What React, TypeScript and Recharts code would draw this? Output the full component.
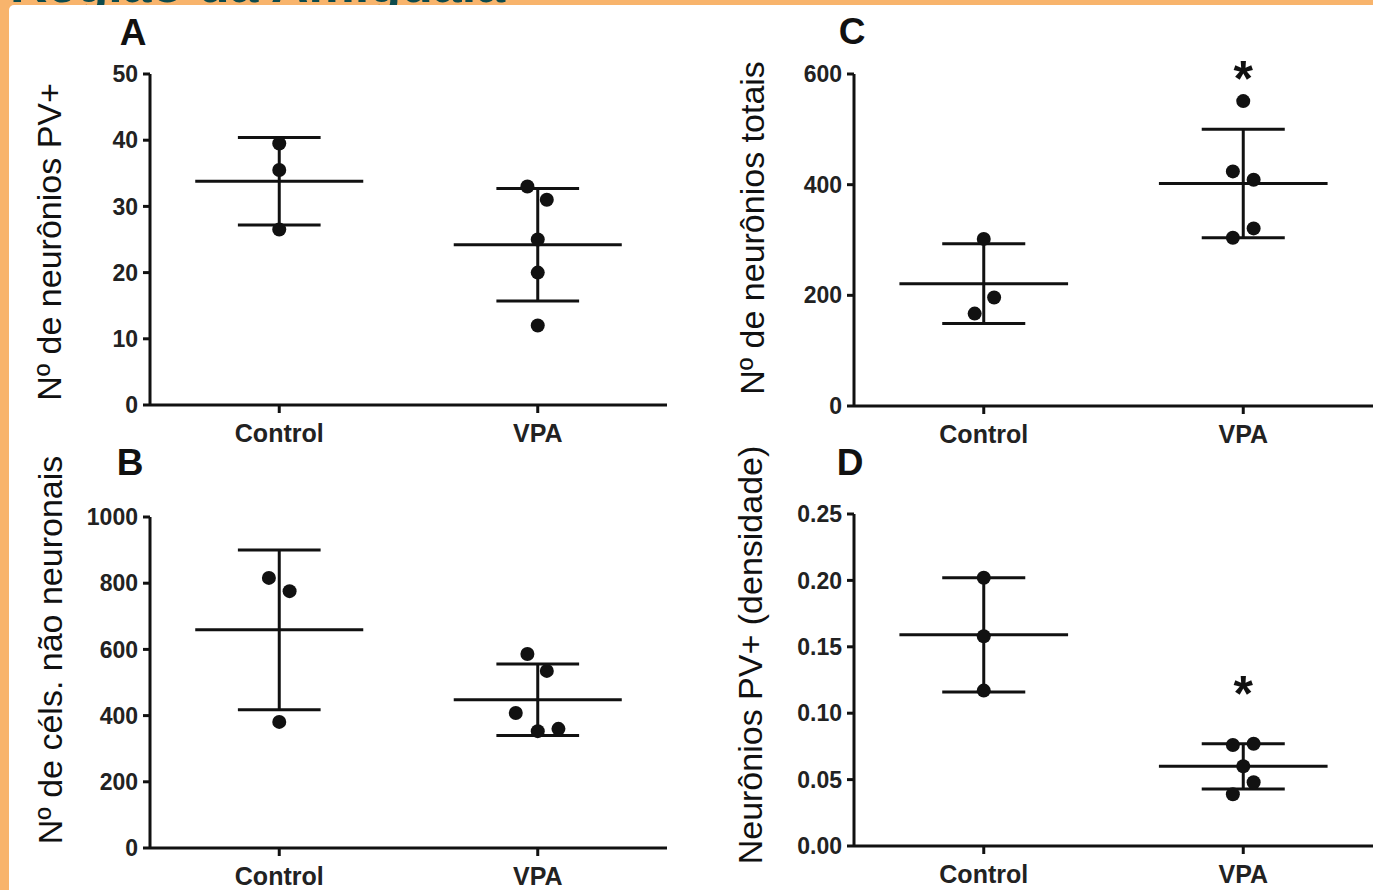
import React from 'react';
import { ScatterChart, Scatter, XAxis, YAxis, ReferenceLine, ReferenceDot } from 'recharts';

const groups = ['Control', 'VPA'];
const groupX = [0.5, 1.5];

// A - Nº de neurônios PV+
const pvControl = [39.5, 35.5, 26.5];
const pvControlDx = [0, 0, 0];
const pvVpa = [33, 31, 25, 20, 12];
const pvVpaDx = [-0.04, 0.035, 0, 0, 0];
const pvMean = [33.8, 24.2];
const pvSd = [6.6, 8.5];
const pvTicks = [0, 10, 20, 30, 40, 50];

// B - Nº de céls. não neuronais
const nnControl = [816, 776, 381];
const nnControlDx = [-0.04, 0.04, 0];
const nnVpa = [586, 535, 408, 353, 360];
const nnVpaDx = [-0.04, 0.035, -0.085, 0, 0.08];
const nnMean = [659, 448];
const nnSd = [241, 108];
const nnTicks = [0, 200, 400, 600, 800, 1000];

// C - Nº de neurônios totais
const totControl = [302, 196, 167];
const totControlDx = [0, 0.04, -0.035];
const totVpa = [551, 424, 409, 321, 304];
const totVpaDx = [0, -0.04, 0.04, 0.04, -0.04];
const totMean = [221, 402];
const totSd = [72, 98];
const totTicks = [0, 200, 400, 600];
const totStar = 607;

// D - Neurônios PV+ (densidade)
const denControl = [0.202, 0.158, 0.117];
const denControlDx = [0, 0, 0];
const denVpa = [0.076, 0.077, 0.060, 0.048, 0.039];
const denVpaDx = [-0.04, 0.04, 0, 0.04, -0.04];
const denMean = [0.159, 0.060];
const denSd = [0.043, 0.017];
const denTicks = [0, 0.05, 0.1, 0.15, 0.2, 0.25];
const denStar = 0.121;

const INK = '#111';
const FONT = '"Liberation Sans", Arial, sans-serif';
const MEAN_HALF = 0.325;
const CAP_HALF = 0.16;

interface PanelProps {
  left: number;
  top: number;
  width: number;
  height: number;
  margin: { top: number; right: number; bottom: number; left: number };
  ticks: number[];
  digits: number;
  control: number[];
  controlDx: number[];
  vpa: number[];
  vpaDx: number[];
  mean: number[];
  sd: number[];
  star?: number;
}

const Dot = (p: any) => <circle cx={p.cx} cy={p.cy} r={7} fill={INK} />;

const Star = (p: any) => (
  <text x={p.cx} y={p.cy + 26} textAnchor="middle" fontSize={50} fontWeight="bold" fontFamily={FONT} fill={INK}>
    *
  </text>
);

const Panel: React.FC<PanelProps> = (props) => {
  const { ticks, digits, mean, sd } = props;
  const controlData = props.control.map((v, i) => ({ x: groupX[0] + props.controlDx[i], y: v }));
  const vpaData = props.vpa.map((v, i) => ({ x: groupX[1] + props.vpaDx[i], y: v }));
  const line = { stroke: INK, strokeWidth: 3 };

  return (
    <div style={{ position: 'absolute', left: props.left, top: props.top }}>
      <ScatterChart width={props.width} height={props.height} margin={props.margin}>
        <XAxis
          type="number"
          dataKey="x"
          domain={[0, 2]}
          ticks={groupX}
          interval={0}
          tickFormatter={(v: number) => groups[groupX.indexOf(v)]}
          height={50}
          tickSize={8}
          tickMargin={11}
          axisLine={line}
          tickLine={line}
          tick={{ fontSize: 25, fontWeight: 'bold', fill: '#222', fontFamily: FONT }}
        />
        <YAxis
          type="number"
          dataKey="y"
          domain={[ticks[0], ticks[ticks.length - 1]]}
          ticks={ticks}
          interval={0}
          tickFormatter={(v: number) => v.toFixed(digits)}
          width={70}
          tickSize={7}
          tickMargin={5}
          axisLine={line}
          tickLine={line}
          tick={{ fontSize: 23, fontWeight: 'bold', fill: '#222', fontFamily: FONT }}
        />
        {groupX.map((gx, i) => (
          <ReferenceLine
            key={`mean-${i}`}
            segment={[{ x: gx - MEAN_HALF, y: mean[i] }, { x: gx + MEAN_HALF, y: mean[i] }]}
            {...line}
          />
        ))}
        {groupX.map((gx, i) => (
          <ReferenceLine
            key={`bar-${i}`}
            segment={[{ x: gx, y: mean[i] - sd[i] }, { x: gx, y: mean[i] + sd[i] }]}
            {...line}
          />
        ))}
        {groupX.map((gx, i) => (
          <ReferenceLine
            key={`hi-${i}`}
            segment={[{ x: gx - CAP_HALF, y: mean[i] + sd[i] }, { x: gx + CAP_HALF, y: mean[i] + sd[i] }]}
            {...line}
          />
        ))}
        {groupX.map((gx, i) => (
          <ReferenceLine
            key={`lo-${i}`}
            segment={[{ x: gx - CAP_HALF, y: mean[i] - sd[i] }, { x: gx + CAP_HALF, y: mean[i] - sd[i] }]}
            {...line}
          />
        ))}
        <Scatter data={controlData} shape={Dot} isAnimationActive={false} />
        <Scatter data={vpaData} shape={Dot} isAnimationActive={false} />
        {props.star !== undefined && (
          <ReferenceDot x={groupX[1]} y={props.star} ifOverflow="visible" shape={Star} />
        )}
      </ScatterChart>
    </div>
  );
};

const App: React.FC = () => {
  return (
    <div
      style={{
        position: 'absolute',
        left: 0,
        top: 0,
        width: 1373,
        height: 890,
        background: '#F8B46C',
        overflow: 'hidden',
        fontFamily: FONT,
      }}
    >
      {/* page heading, cut off by the top edge as in the source figure */}
      <svg width={1373} height={6} style={{ position: 'absolute', left: 0, top: 0 }}>
        <text x={10} y={2} fontSize={52} fontWeight="bold" fill="#0d4b4d" fontFamily={FONT}>
          Região da Amígdala
        </text>
      </svg>
      <div
        style={{
          position: 'absolute',
          left: 9,
          top: 5,
          right: 0,
          bottom: 0,
          background: '#fff',
          borderTopLeftRadius: 5,
        }}
      />

      <Panel
        left={80}
        top={40}
        width={610}
        height={420}
        margin={{ top: 34, right: 23, bottom: 5, left: 0 }}
        ticks={pvTicks}
        digits={0}
        control={pvControl}
        controlDx={pvControlDx}
        vpa={pvVpa}
        vpaDx={pvVpaDx}
        mean={pvMean}
        sd={pvSd}
      />
      <Panel
        left={780}
        top={40}
        width={593}
        height={420}
        margin={{ top: 34, right: 0, bottom: 4, left: 4 }}
        ticks={totTicks}
        digits={0}
        control={totControl}
        controlDx={totControlDx}
        vpa={totVpa}
        vpaDx={totVpaDx}
        mean={totMean}
        sd={totSd}
        star={totStar}
      />
      <Panel
        left={80}
        top={480}
        width={610}
        height={410}
        margin={{ top: 37, right: 23, bottom: -8, left: 0 }}
        ticks={nnTicks}
        digits={0}
        control={nnControl}
        controlDx={nnControlDx}
        vpa={nnVpa}
        vpaDx={nnVpaDx}
        mean={nnMean}
        sd={nnSd}
      />
      <Panel
        left={780}
        top={480}
        width={593}
        height={410}
        margin={{ top: 34, right: 0, bottom: -6, left: 4 }}
        ticks={denTicks}
        digits={2}
        control={denControl}
        controlDx={denControlDx}
        vpa={denVpa}
        vpaDx={denVpaDx}
        mean={denMean}
        sd={denSd}
        star={denStar}
      />

      <svg
        width={1373}
        height={890}
        style={{ position: 'absolute', left: 0, top: 0, pointerEvents: 'none' }}
        fontFamily={FONT}
        fill={INK}
      >
        <text x={133} y={45} fontSize={37} fontWeight="bold" textAnchor="middle">A</text>
        <text x={852} y={44} fontSize={37} fontWeight="bold" textAnchor="middle">C</text>
        <text x={130} y={475} fontSize={37} fontWeight="bold" textAnchor="middle">B</text>
        <text x={850} y={475} fontSize={37} fontWeight="bold" textAnchor="middle">D</text>

        <text transform="translate(61,242) rotate(-90)" fontSize={34} textAnchor="middle">Nº de neurônios PV+</text>
        <text transform="translate(764,228) rotate(-90)" fontSize={34} textAnchor="middle">Nº de neurônios totais</text>
        <text transform="translate(62,650) rotate(-90)" fontSize={34} textAnchor="middle">Nº de céls. não neuronais</text>
        <text transform="translate(762,655) rotate(-90)" fontSize={34} textAnchor="middle">Neurônios PV+ (densidade)</text>
      </svg>
    </div>
  );
};

export default App;
